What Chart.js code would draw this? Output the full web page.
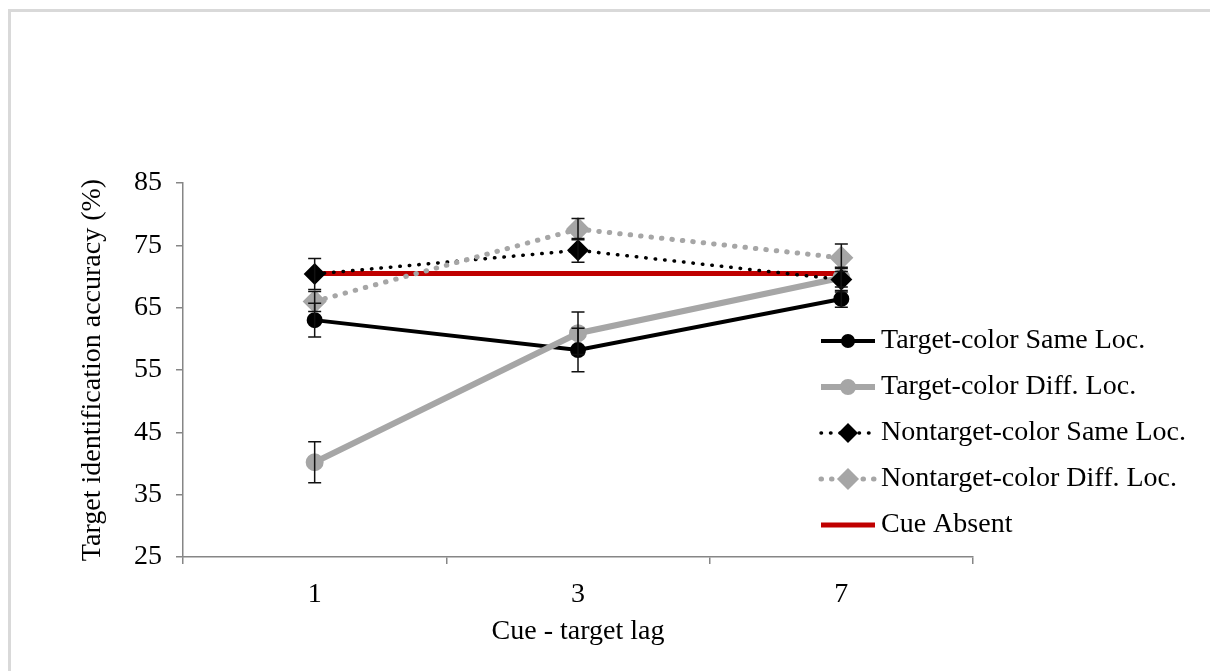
<!DOCTYPE html>
<html>
<head>
<meta charset="utf-8">
<script src="https://cdn.jsdelivr.net/npm/chart.js@4.4.1/dist/chart.umd.min.js"></script>
<style>
  html, body { margin: 0; padding: 0; background: #fff; }
  #wrap { position: relative; width: 1210px; height: 671px; overflow: hidden; }
  #frame { position: absolute; left: 8px; top: 9px; width: 1300px; height: 800px;
           border-top: 3px solid #d9d9d9; border-left: 3px solid #d9d9d9; }
  canvas { position: absolute; left: 0; top: 0; }
</style>
</head>
<body>
<div id="wrap">
  <div id="frame"></div>
  <canvas id="chart" width="1210" height="671"></canvas>
</div>
<script>
// data
const lags = ['1', '3', '7'];
const targetSame = [63.0, 58.2, 66.4];
const targetSameErr = [2.7, 3.5, 1.35];
const targetDiff = [40.2, 60.9, 69.8];
const targetDiffErr = [3.3, 3.4, 1.5];
const nontargetSame = [70.4, 74.2, 69.5];
const nontargetSameErr = [2.5, 1.9, 2.0];
const nontargetDiff = [66.0, 77.6, 73.0];
const nontargetDiffErr = [1.6, 1.7, 2.2];
const cueAbsent = [70.5, 70.5, 70.5];

const yTicks = [25, 35, 45, 55, 65, 75, 85];

const FONT = "'Liberation Serif', 'Times New Roman', serif";
const AXIS_COLOR = '#868686';

// error bars, drawn from each dataset's errors array
const errorBars = {
    id: 'errorBars',
    afterDatasetsDraw(chart) {
        const ctx = chart.ctx;
        const y = chart.scales.y;
        chart.data.datasets.forEach((ds, i) => {
            if (!ds.errors) return;
            chart.getDatasetMeta(i).data.forEach((pt, j) => {
                const top = y.getPixelForValue(ds.data[j] + ds.errors[j]);
                const bot = y.getPixelForValue(ds.data[j] - ds.errors[j]);
                ctx.save();
                ctx.strokeStyle = '#111';
                ctx.lineWidth = 1.5;
                ctx.beginPath();
                ctx.moveTo(pt.x, top); ctx.lineTo(pt.x, bot);
                ctx.moveTo(pt.x - 6.5, top); ctx.lineTo(pt.x + 6.5, top);
                ctx.moveTo(pt.x - 6.5, bot); ctx.lineTo(pt.x + 6.5, bot);
                ctx.stroke();
                ctx.restore();
            });
        });
    }
};

// legend sitting over the right part of the plot, like the original
const sideLegend = {
    id: 'sideLegend',
    afterDraw(chart, args, opts) {
        const ctx = chart.ctx;
        chart.data.datasets.forEach((ds, i) => {
            const y = opts.top + i * opts.gap;
            ctx.save();
            ctx.strokeStyle = ds.borderColor;
            ctx.lineWidth = ds.borderWidth;
            ctx.lineCap = ds.borderCapStyle || 'butt';
            ctx.setLineDash(ds.borderDash || []);
            ctx.beginPath();
            ctx.moveTo(opts.x, y);
            ctx.lineTo(opts.x + opts.lineLen, y);
            ctx.stroke();
            ctx.setLineDash([]);
            if (ds.pointRadius > 0) {
                ctx.fillStyle = ds.pointBackgroundColor;
                ctx.strokeStyle = ds.pointBorderColor;
                Chart.helpers.drawPoint(ctx, {
                    pointStyle: ds.pointStyle,
                    radius: ds.pointRadius - 1,
                    borderWidth: 1
                }, opts.x + opts.lineLen / 2, y);
            }
            ctx.fillStyle = '#000';
            ctx.font = opts.fontSize + 'px ' + FONT;
            ctx.textBaseline = 'middle';
            ctx.textAlign = 'left';
            ctx.fillText(ds.label, opts.x + opts.lineLen + 6, y);
            ctx.restore();
        });
    }
};

new Chart(document.getElementById('chart'), {
    type: 'line',
    data: {
        labels: lags,
        datasets: [
            {
                label: 'Target-color Same Loc.',
                data: targetSame, errors: targetSameErr,
                borderColor: '#000', borderWidth: 4,
                pointStyle: 'circle', pointRadius: 6,
                pointBackgroundColor: '#000', pointBorderColor: '#000',
                order: 4
            },
            {
                label: 'Target-color Diff. Loc.',
                data: targetDiff, errors: targetDiffErr,
                borderColor: '#a6a6a6', borderWidth: 6,
                pointStyle: 'circle', pointRadius: 6,
                pointBackgroundColor: '#a6a6a6', pointBorderColor: '#a6a6a6',
                order: 3
            },
            {
                label: 'Nontarget-color Same Loc.',
                data: nontargetSame, errors: nontargetSameErr,
                borderColor: '#000', borderWidth: 3.5,
                borderDash: [0.5, 9], borderCapStyle: 'round',
                pointStyle: 'rectRot', pointRadius: 8.5,
                pointBackgroundColor: '#000', pointBorderColor: '#000',
                order: 2
            },
            {
                label: 'Nontarget-color Diff. Loc.',
                data: nontargetDiff, errors: nontargetDiffErr,
                borderColor: '#a6a6a6', borderWidth: 5,
                borderDash: [0.5, 10], borderCapStyle: 'round',
                pointStyle: 'rectRot', pointRadius: 8.5,
                pointBackgroundColor: '#a6a6a6', pointBorderColor: '#a6a6a6',
                order: 1
            },
            {
                label: 'Cue Absent',
                data: cueAbsent,
                borderColor: '#c00000', borderWidth: 5,
                pointRadius: 0,
                order: 10
            }
        ]
    },
    options: {
        responsive: false,
        animation: false,
        layout: { padding: { top: 183, right: 237, left: 0, bottom: 0 } },
        plugins: {
            legend: { display: false },
            tooltip: { enabled: false },
            sideLegend: { x: 821, top: 341, gap: 46, lineLen: 54, fontSize: 28 }
        },
        scales: {
            x: {
                offset: true,
                afterFit(scale) { scale.height = 114; },
                grid: { offset: true, drawOnChartArea: false, tickLength: 7, color: AXIS_COLOR, lineWidth: 1.5 },
                border: { color: AXIS_COLOR, width: 1.5 },
                ticks: { color: '#000', font: { family: FONT, size: 28 }, padding: 14 },
                title: {
                    display: true, text: 'Cue - target lag', color: '#000',
                    font: { family: FONT, size: 28 }, padding: { top: 0, bottom: 23 }
                }
            },
            y: {
                min: 25, max: 85,
                afterFit(scale) { scale.width = 183; },
                afterBuildTicks(scale) { scale.ticks = yTicks.map(v => ({ value: v })); },
                grid: { drawOnChartArea: false, tickLength: 7, color: AXIS_COLOR, lineWidth: 1.5 },
                border: { color: AXIS_COLOR, width: 1.5 },
                ticks: { color: '#000', font: { family: FONT, size: 28 }, padding: 14 },
                title: {
                    display: true, text: 'Target identification accuracy (%)', color: '#000',
                    font: { family: FONT, size: 28 }, padding: { top: 76, bottom: 0 }
                }
            }
        }
    },
    plugins: [errorBars, sideLegend]
});
</script>
</body>
</html>
